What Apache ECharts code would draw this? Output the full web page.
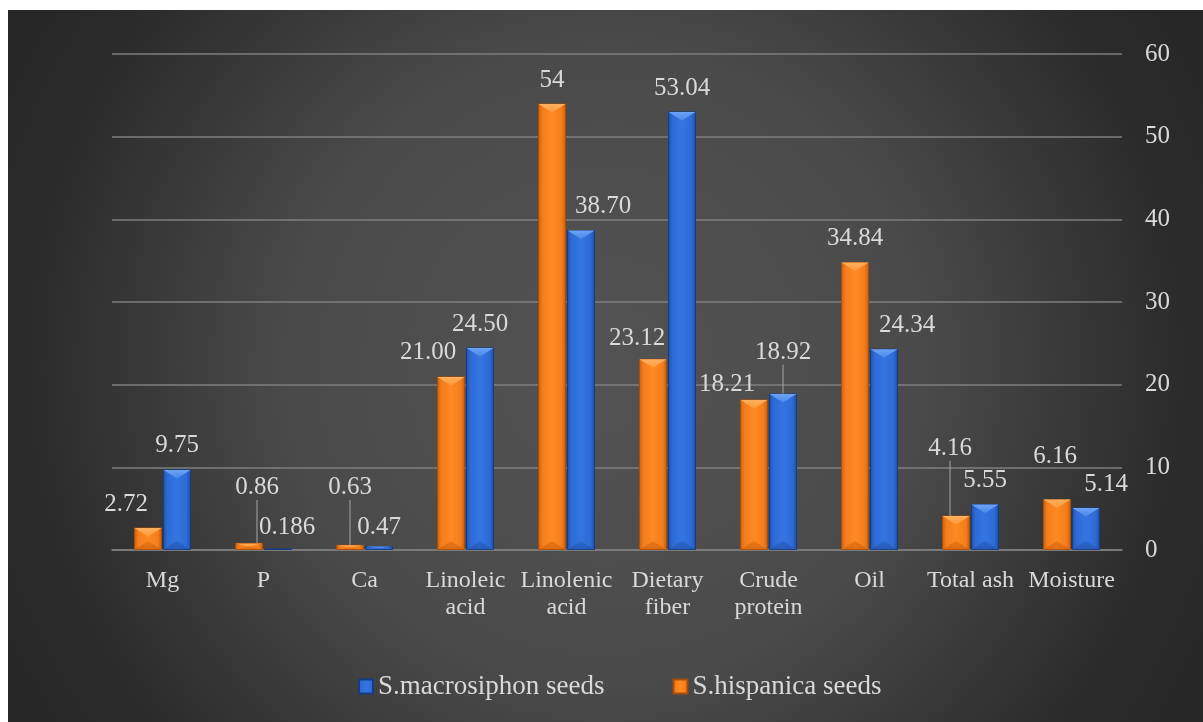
<!DOCTYPE html>
<html>
<head>
<meta charset="utf-8">
<script src="https://cdn.jsdelivr.net/npm/echarts@6/dist/echarts.min.js"></script>
<style>
  html, body { margin: 0; padding: 0; background: #ffffff; }
  #chart { position: absolute; left: 8px; top: 10px; width: 1195px; height: 712px; }
</style>
</head>
<body>
<div id="chart"></div>
<script>
// Seed composition: minerals, fatty acids and proximate values
const categories = ['Mg', 'P', 'Ca', 'Linoleic\nacid', 'Linolenic\nacid', 'Dietary\nfiber',
                    'Crude\nprotein', 'Oil', 'Total ash', 'Moisture'];
const hispanicaText   = ['2.72', '0.86', '0.63', '21.00', '54', '23.12', '18.21', '34.84', '4.16', '6.16'];
const macrosiphonText = ['9.75', '0.186', '0.47', '24.50', '38.70', '53.04', '18.92', '24.34', '5.55', '5.14'];
const hispanica   = hispanicaText.map(Number);
const macrosiphon = macrosiphonText.map(Number);
const seriesNames = ['S.hispanica seeds', 'S.macrosiphon seeds'];
const legendOrder = ['S.macrosiphon seeds', 'S.hispanica seeds'];
const yMin = 0, yMax = 60, yStep = 10;

// label nudges [dx, dy] away from the default spot above each bar
const hispanicaShift   = [[-22, 0], [8, -32], [0, -34], [-23, 0], [0, 0], [-16, 3], [-27, 8], [0, 0], [-6, -44], [-2, -19]];
const macrosiphonShift = [[0, 0], [9, 2], [0, 5], [0, 0], [22, 0], [0, 0], [0, -18], [23, 0], [0, 0], [20, 0]];
// which labels get a guide line back to the bar
const hispanicaGuide   = [false, true, true, false, false, false, false, false, true, false];
const macrosiphonGuide = [false, false, false, false, false, false, true, false, false, false];

const FONT = "'Liberation Serif', 'Times New Roman', serif";
const TEXT = '#d9d9d9';
const GRID = '#7f7f7f';
const BAR_W = 28;
const GAP = 1;

const palettes = [
  { body: ['#c85d0c', '#f37d1c', '#ff8a22', '#f37d1c', '#c45a0b'], border: '#a94d0a',
    top: ['#ffb060', '#ff9a3a'], bottom: ['#e0700f', '#cf620c'] },
  { body: ['#1d4ea8', '#2d6ad6', '#3475e2', '#2d6ad6', '#1b4a9e'], border: '#173c80',
    top: ['#6da3f5', '#4a88ea'], bottom: ['#295fc2', '#2152a8'] }
];

function bodyGradient(p) {
  return new echarts.graphic.LinearGradient(0, 0, 1, 0, [
    { offset: 0, color: p.body[0] }, { offset: 0.15, color: p.body[1] },
    { offset: 0.5, color: p.body[2] }, { offset: 0.85, color: p.body[3] },
    { offset: 1, color: p.body[4] }
  ]);
}

function barSeries(idx, values, texts, guides) {
  const p = palettes[idx];
  return {
    name: seriesNames[idx],
    type: 'bar',
    barWidth: BAR_W,
    barGap: (GAP / BAR_W * 100) + '%',
    z: 2,
    itemStyle: { color: bodyGradient(p), borderColor: p.border, borderWidth: 1 },
    label: {
      show: true, position: 'top', distance: 11,
      color: TEXT, fontFamily: FONT, fontSize: 25,
      formatter: (prm) => texts[prm.dataIndex]
    },
    labelLine: { show: false, lineStyle: { color: '#a6a6a6', width: 1 } },
    data: values.map((v, i) => guides[i]
      ? { value: v, labelLine: { show: true, lineStyle: { color: '#a6a6a6', width: 1 } } }
      : v)
  };
}

// facet overlay giving each bar its bevelled top and bottom
function bevelSeries(idx, values) {
  const p = palettes[idx];
  const side = idx === 0 ? -1 : 1;
  return {
    name: 'bevel' + idx,
    type: 'custom',
    silent: true,
    z: 3,
    data: values.map((v, i) => [i, v]),
    renderItem: function (params, api) {
      const cat = api.value(0);
      const top = api.coord([cat, api.value(1)]);
      const base = api.coord([cat, 0]);
      const xc = top[0] + side * (BAR_W / 2 + GAP / 2);
      const l = xc - BAR_W / 2, r = xc + BAR_W / 2;
      const t = top[1], b = base[1];
      const h = b - t;
      const d = Math.min(9, h / 2);
      if (h < 2) return null;
      return {
        type: 'group',
        children: [
          { type: 'polygon', shape: { points: [[l + 0.5, t + 0.5], [r - 0.5, t + 0.5], [xc, t + d]] },
            style: { fill: new echarts.graphic.LinearGradient(0, 0, 0, 1, [
              { offset: 0, color: p.top[0] }, { offset: 1, color: p.top[1] }]) } },
          { type: 'polygon', shape: { points: [[l + 0.5, b - 0.5], [r - 0.5, b - 0.5], [xc, b - d]] },
            style: { fill: new echarts.graphic.LinearGradient(0, 0, 0, 1, [
              { offset: 0, color: p.bottom[0] }, { offset: 1, color: p.bottom[1] }]), opacity: 0.7 } }
        ]
      };
    }
  };
}

const shifts = [hispanicaShift, macrosiphonShift];

const chart = echarts.init(document.getElementById('chart'), null, { renderer: 'canvas' });
chart.setOption({
  animation: false,
  backgroundColor: {
    type: 'radial', x: 0.5, y: 0.5, r: 1,
    colorStops: [
      { offset: 0, color: '#535353' },
      { offset: 0.45, color: '#4a4a4a' },
      { offset: 0.6, color: '#3d3d3d' },
      { offset: 0.8, color: '#2c2c2c' },
      { offset: 1, color: '#252525' }
    ]
  },
  grid: { left: 104, right: 81, top: 44, bottom: 172 },
  legend: {
    data: legendOrder,
    left: 345, top: 658,
    itemWidth: 14, itemHeight: 14, itemGap: 68,
    icon: 'rect',
    textStyle: { color: TEXT, fontFamily: FONT, fontSize: 27 }
  },
  xAxis: {
    type: 'category',
    data: categories,
    axisLine: { show: true, lineStyle: { color: GRID, width: 1.5 } },
    axisTick: { show: false },
    axisLabel: { interval: 0, color: TEXT, fontFamily: FONT, fontSize: 24, lineHeight: 27, margin: 17 }
  },
  yAxis: {
    type: 'value',
    position: 'right',
    min: yMin, max: yMax, interval: yStep,
    axisLine: { show: false },
    axisTick: { show: false },
    axisLabel: { color: TEXT, fontFamily: FONT, fontSize: 25, margin: 23 },
    splitLine: { lineStyle: { color: GRID, width: 1.5 } }
  },
  labelLayout: function (params) {
    const s = shifts[params.seriesIndex];
    if (!s) return {};
    const sh = s[params.dataIndex];
    return { dx: sh[0], dy: sh[1] };
  },
  series: [
    barSeries(0, hispanica, hispanicaText, hispanicaGuide),
    barSeries(1, macrosiphon, macrosiphonText, macrosiphonGuide),
    bevelSeries(0, hispanica),
    bevelSeries(1, macrosiphon)
  ]
});
</script>
</body>
</html>
